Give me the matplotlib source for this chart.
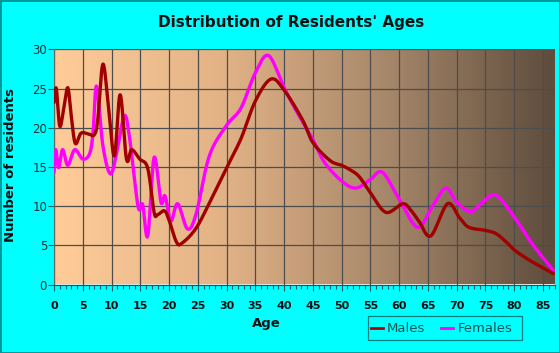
import numpy as np
import matplotlib
matplotlib.use("Agg")
import matplotlib.pyplot as plt
from matplotlib.colors import LinearSegmentedColormap
from matplotlib.lines import Line2D
from matplotlib.patches import Rectangle

# ---- data ----
male_ages = [0, 0.4, 1.0, 1.7, 2.4, 3.0, 3.7, 4.7, 6.0, 7.0, 7.6, 8.5, 9.5, 10.5, 11.5,
             12.6, 13.5, 14.9, 16.3, 17.4, 18.0, 19.2, 20.0, 21.3, 22.3, 24.8, 27.6, 30,
             32.5, 35, 37.7, 40, 43.2, 45, 48, 50, 51.3, 53, 55, 57.7, 60.6, 62, 63.5,
             65.5, 68.4, 70.5, 72.1, 75, 76.8, 78.5, 80.2, 83.1, 86.8]
male_vals = [23.2, 25.0, 20.2, 22.5, 25.1, 21.5, 18.0, 19.3, 19.2, 19.1, 21.0, 28.1, 22.5,
             16.4, 24.2, 16.0, 17.2, 16.0, 14.8, 9.2, 8.9, 9.4, 8.2, 5.4, 5.3, 7.3, 11.3,
             14.9, 18.6, 23.4, 26.2, 24.8, 21.0, 18.1, 15.8, 15.2, 14.7, 13.8, 11.7, 9.2,
             10.3, 9.5, 8.0, 6.2, 10.3, 8.5, 7.3, 6.9, 6.5, 5.5, 4.3, 2.9, 1.4]

female_ages = [0, 0.3, 0.8, 1.5, 2.4, 3.6, 5.0, 6.2, 6.8, 7.4, 8.5, 9.8, 10.9, 12.2, 13.1,
               14.6, 15.4, 16.3, 17.4, 18.6, 19.3, 20.3, 21.5, 23.2, 24.7, 27, 30, 32.5,
               35, 37.3, 40, 42, 45, 47, 50, 52.5, 55, 57.1, 60, 63.2, 65.8, 68.1, 70,
               72.4, 74.5, 76.8, 80.2, 83.1, 86.8]
female_vals = [14.3, 17.2, 14.9, 17.2, 15.2, 17.2, 16.0, 16.7, 19.5, 25.3, 17.7, 14.1, 16.8,
               21.5, 18.9, 10.0, 10.2, 6.2, 16.2, 10.5, 11.3, 8.1, 10.3, 7.1, 9.0, 16.4,
               20.3, 22.5, 27.0, 29.2, 25.1, 22.3, 18.5, 15.6, 13.2, 12.3, 13.4, 14.3, 10.9,
               7.3, 10.0, 12.3, 10.5, 9.3, 10.5, 11.4, 8.4, 5.2, 1.8]

x_ticks = list(range(0, 90, 5))
y_ticks = [0, 5, 10, 15, 20, 25, 30]
title = "Distribution of Residents' Ages"
x_label = "Age"
y_label = "Number of residents"
series_names = ["Males", "Females"]
series_colors = ["#A00000", "#FF00FF"]


def smooth(xs, ys, n=20):
    """Catmull-Rom (uniform parameter) curve through the given points, for drawing only."""
    P = np.column_stack([xs, ys]).astype(float)
    P = np.vstack([P[0] - (P[1] - P[0]), P, P[-1] + (P[-1] - P[-2])])
    out = []
    t = np.linspace(0, 1, n, endpoint=False)
    for i in range(1, len(P) - 2):
        p0, p1, p2, p3 = P[i - 1], P[i], P[i + 1], P[i + 2]
        m1 = (p2 - p0) / 2
        m2 = (p3 - p1) / 2
        h00 = 2 * t**3 - 3 * t**2 + 1
        h10 = t**3 - 2 * t**2 + t
        h01 = -2 * t**3 + 3 * t**2
        h11 = t**3 - t**2
        seg = (h00[:, None] * p1 + h10[:, None] * m1 + h01[:, None] * p2 + h11[:, None] * m2)
        out.append(seg)
    out.append(P[-2][None, :])
    arr = np.vstack(out)
    return arr[:, 0], arr[:, 1]


W, H = 560, 353
fig = plt.figure(figsize=(W / 100, H / 100), dpi=100)
fig.patch.set_facecolor("#00FFFF")
fig.patch.set_edgecolor("#009999")
fig.patch.set_linewidth(2)

ax = fig.add_axes([54 / W, 1 - 284.5 / H, 500.5 / W, (284.5 - 49.3) / H])
ax.set_xlim(0, 87)
ax.set_ylim(0, 30)

# gradient background
cmap = LinearSegmentedColormap.from_list("bg", ["#FFCC99", "#E3B387", "#A6876A", "#5E4C3C"])
grad = np.linspace(0, 1, 256).reshape(1, -1)
ax.imshow(grad, extent=[0, 87, 0, 30], aspect="auto", cmap=cmap, zorder=0,
          interpolation="bicubic")

for xv in x_ticks:
    ax.axvline(xv, color="#4d4d4d", lw=0.9, zorder=1)
for yv in y_ticks:
    ax.axhline(yv, color="#4d4d4d", lw=0.9, zorder=1)

mx, my = smooth(male_ages, male_vals)
fx, fy = smooth(female_ages, female_vals)
ax.plot(fx, fy, color=series_colors[1], lw=2.4, zorder=3, solid_capstyle="round")
ax.plot(mx, my, color=series_colors[0], lw=2.4, zorder=4, solid_capstyle="round")

ax.set_xticks(x_ticks)
ax.set_xticks(range(0, 88), minor=True)
ax.set_yticks(y_ticks)
ax.tick_params(axis="x", which="major", length=4, width=0.8, color="#006666",
               labelsize=8, labelcolor="#111111", pad=8)
ax.tick_params(axis="x", which="minor", length=3, width=0.8, color="#006666")
ax.tick_params(axis="y", which="major", length=4, width=0.8, color="#006666",
               labelsize=8.5, labelcolor="#113333", pad=1)
for lab in ax.get_xticklabels():
    lab.set_fontweight("bold")

for s in ["top", "right"]:
    ax.spines[s].set_visible(False)
ax.spines["left"].set_color("#666666")
ax.spines["bottom"].set_color("#006666")

fig.text(291 / W, 1 - 23 / H, title, ha="center", va="center", fontsize=11,
         fontweight="bold", color="#111111", family="DejaVu Sans")
fig.text(266 / W, 1 - 324 / H, x_label, ha="center", va="center", fontsize=9.5,
         fontweight="bold", color="#111111", family="DejaVu Sans")
fig.text(11 / W, 1 - 165 / H, y_label, ha="center", va="center", fontsize=9.5,
         fontweight="bold", color="#111111", rotation=90, family="DejaVu Sans")

# legend (manual layout)
box = Rectangle((367.5 / W, 1 - 339.5 / H), (521.5 - 367.5) / W, (339.5 - 316) / H,
                transform=fig.transFigure, facecolor="#00FFFF", edgecolor="#008080",
                lw=0.9, zorder=5)
fig.add_artist(box)
ly = 1 - 328 / H
for name, col, hx0, tx in [(series_names[0], "#AA0000", 370.5, 386.5),
                           (series_names[1], "#FF00FF", 440.5, 457.5)]:
    fig.add_artist(Line2D([hx0 / W, (hx0 + 12) / W], [ly, ly], transform=fig.transFigure,
                          color=col, lw=2, zorder=6))
    fig.text(tx / W, ly, name, ha="left", va="center", fontsize=9.5, color="#115555",
             family="DejaVu Sans", zorder=6)

fig.savefig("out.png", dpi=100, facecolor=fig.get_facecolor(), edgecolor=fig.get_edgecolor())
